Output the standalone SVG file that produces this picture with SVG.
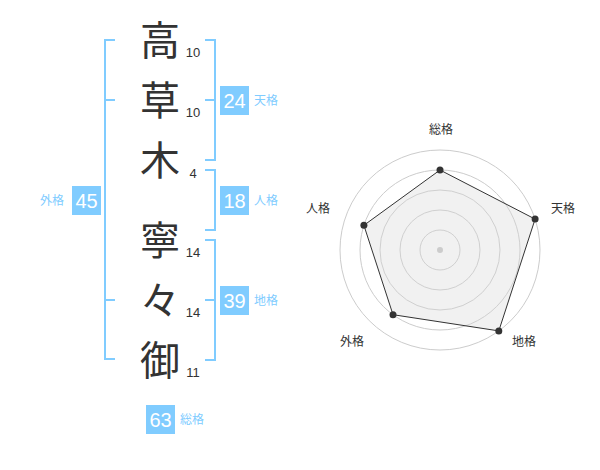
<svg xmlns="http://www.w3.org/2000/svg" width="600" height="470" viewBox="0 0 600 470">
<style>
.ch{font-family:"Noto Sans CJK JP","Noto Sans CJK SC",sans-serif;font-size:40px;fill:#333;text-anchor:middle}
.num{font-family:"Liberation Sans",Arial,sans-serif;font-size:13px;fill:#333;text-anchor:middle}
.br{fill:none;stroke:#80ccff;stroke-width:2}
.box{fill:#80ccff}
.bv{font-family:"Liberation Sans",Arial,sans-serif;font-size:20px;fill:#fff;text-anchor:middle}
.bl{font-family:"Noto Sans CJK JP",sans-serif;font-size:12px;fill:#80ccff}
.ring{fill:none;stroke:#cccccc;stroke-width:1}
.rl{font-family:"Noto Sans CJK JP",sans-serif;font-size:12px;fill:#333;text-anchor:middle}
.pt{fill:#333}
</style>
<rect width="600" height="470" fill="#fff"/>
<g id="connectors">
<path class="br" d="M115,40 H105 V359 H115 M105,100 H115 M105,300 H115"/>
<path class="br" d="M205,40 H215 V160 H205 M205,100 H215"/>
<path class="br" d="M205,170 H215 V230 H205"/>
<path class="br" d="M205,240 H215 V360 H205 M205,300 H215"/>
</g>
<g id="char-1"><text class="ch" x="160" y="55">高</text><text class="num" x="193" y="57">10</text></g>
<g id="char-2"><text class="ch" x="160" y="115">草</text><text class="num" x="193" y="117">10</text></g>
<g id="char-3"><text class="ch" x="160" y="175">木</text><text class="num" x="193" y="178">4</text></g>
<g id="char-4"><text class="ch" x="160" y="255">寧</text><text class="num" x="193" y="257">14</text></g>
<g id="char-5"><text class="ch" x="160" y="315">々</text><text class="num" x="193" y="317">14</text></g>
<g id="char-6"><text class="ch" x="160" y="375">御</text><text class="num" x="193" y="377">11</text></g>
<g id="tenkaku"><rect class="box" x="220" y="86" width="29" height="29"/><text class="bv" x="234.5" y="107.5">24</text><text class="bl" x="254" y="105">天格</text></g>
<g id="jinkaku"><rect class="box" x="220" y="186" width="29" height="29"/><text class="bv" x="234.5" y="207.5">18</text><text class="bl" x="254" y="205">人格</text></g>
<g id="chikaku"><rect class="box" x="220" y="286" width="29" height="29"/><text class="bv" x="234.5" y="307.5">39</text><text class="bl" x="254" y="305">地格</text></g>
<g id="gaikaku"><rect class="box" x="72" y="186" width="29" height="29"/><text class="bv" x="86.5" y="207.5">45</text><text class="bl" x="64" y="205" text-anchor="end">外格</text></g>
<g id="soukaku"><rect class="box" x="146" y="405" width="29" height="29"/><text class="bv" x="160.5" y="426.5">63</text><text class="bl" x="180" y="424">総格</text></g>
<g id="radar">
<circle class="ring" cx="440" cy="250" r="20"/>
<circle class="ring" cx="440" cy="250" r="40"/>
<circle class="ring" cx="440" cy="250" r="60"/>
<circle class="ring" cx="440" cy="250" r="80"/>
<circle class="ring" cx="440" cy="250" r="100"/>
<polygon points="440,170 535.1,219.1 498.8,330.9 393,314.7 363.9,225.3" fill="#d8d8d8" fill-opacity="0.35" stroke="#333" stroke-width="1"/>
<circle cx="440" cy="250" r="3" fill="#cccccc"/>
<circle class="pt" cx="440" cy="170" r="3.5"/>
<circle class="pt" cx="535.1" cy="219.1" r="3.5"/>
<circle class="pt" cx="498.8" cy="330.9" r="3.5"/>
<circle class="pt" cx="393" cy="314.7" r="3.5"/>
<circle class="pt" cx="363.9" cy="225.3" r="3.5"/>
<text class="rl" x="441" y="134">総格</text>
<text class="rl" x="563" y="213">天格</text>
<text class="rl" x="524" y="346">地格</text>
<text class="rl" x="352" y="346">外格</text>
<text class="rl" x="318" y="213">人格</text>
</g>
</svg>
